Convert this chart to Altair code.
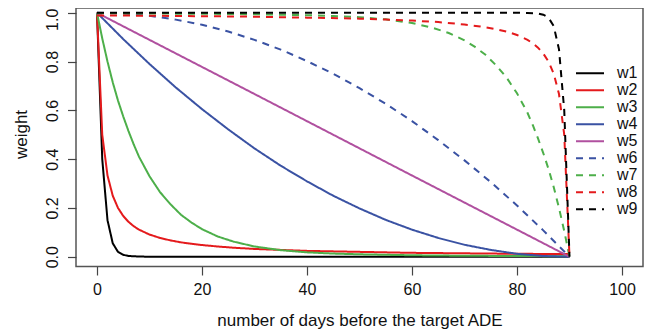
import altair as alt
import pandas as pd

names = ["w1", "w2", "w3", "w4", "w5", "w6", "w7", "w8", "w9"]

w1_days = [0, 1, 2, 3, 4, 5, 6, 8, 10, 20, 40, 60, 80, 90]
w1_vals = [1, 0.40, 0.15, 0.055, 0.02, 0.008, 0.003, 0.001, 0, 0, 0, 0, 0, 0]

w2_days = [0, 1, 2, 3, 4, 5, 6, 7, 8, 10, 12, 14, 16, 18, 20, 23, 26, 30, 35, 40, 45, 50, 55, 60, 65, 70, 75, 80, 85, 90]
w2_vals = [1, 0.5, 0.333, 0.25, 0.2, 0.167, 0.143, 0.125, 0.111, 0.091, 0.077, 0.067, 0.059, 0.053, 0.048, 0.042, 0.037,
           0.032, 0.028, 0.024, 0.022, 0.020, 0.018, 0.016, 0.015, 0.014, 0.013, 0.012, 0.0116, 0.011]

w3_days = [0, 1, 2, 3, 4, 5, 6, 7, 8, 10, 12, 14, 16, 18, 20, 23, 26, 30, 35, 40, 45, 50, 55, 60, 65, 70, 75, 80, 85, 90]
w3_vals = [1, 0.895, 0.80, 0.715, 0.64, 0.575, 0.515, 0.46, 0.41, 0.33, 0.265, 0.215, 0.172, 0.14, 0.113, 0.083, 0.062,
           0.042, 0.027, 0.018, 0.013, 0.010, 0.008, 0.006, 0.005, 0.004, 0.0035, 0.003, 0.0025, 0.002]

w4_days = [0, 5, 10, 15, 20, 25, 30, 35, 40, 45, 50, 55, 60, 65, 70, 75, 80, 85, 90]
w4_vals = [1, 0.892, 0.790, 0.694, 0.605, 0.522, 0.444, 0.373, 0.309, 0.25, 0.198, 0.151, 0.111, 0.077, 0.049, 0.028,
           0.012, 0.003, 0]

w5_days = [0, 30, 60, 90]
w5_vals = [1, 0.667, 0.333, 0]

w6_days = [0, 5, 10, 15, 20, 25, 30, 35, 40, 45, 50, 55, 60, 65, 70, 75, 80, 85, 90]
w6_vals = [1, 0.997, 0.988, 0.972, 0.951, 0.923, 0.889, 0.849, 0.802, 0.75, 0.691, 0.627, 0.556, 0.478, 0.395, 0.306,
           0.21, 0.108, 0]

w7_days = [0, 5, 10, 15, 20, 25, 30, 35, 40, 45, 50, 55, 60, 64, 67, 70, 72, 74, 76, 78, 80, 82, 83, 84, 85, 86, 87, 88, 89, 90]
w7_vals = [0.998, 0.9975, 0.997, 0.9965, 0.996, 0.995, 0.994, 0.992, 0.990, 0.987, 0.982, 0.973, 0.958, 0.938, 0.917,
           0.887, 0.86, 0.828, 0.785, 0.735, 0.67, 0.59, 0.54, 0.485, 0.425, 0.36, 0.285, 0.20, 0.105, 0]

w8_days = [0, 10, 20, 30, 40, 50, 55, 60, 65, 70, 73, 76, 78, 80, 82, 83, 84, 85, 86, 87, 88, 89, 90]
w8_vals = [0.989, 0.988, 0.986, 0.984, 0.980, 0.976, 0.972, 0.968, 0.962, 0.952, 0.944, 0.933, 0.923, 0.909, 0.889,
           0.875, 0.857, 0.833, 0.80, 0.75, 0.667, 0.5, 0]

w9_days = [0, 20, 40, 60, 80, 82, 84, 85, 86, 87, 88, 89, 90]
w9_vals = [1, 1, 1, 1, 1, 0.999, 0.997, 0.992, 0.98, 0.945, 0.85, 0.60, 0]

x_ticks = [0, 20, 40, 60, 80, 100]
y_ticks = [0.0, 0.2, 0.4, 0.6, 0.8, 1.0]

colors = ["#000000", "#E41A1C", "#4DAF4A", "#3A52A3", "#B0509F", "#3A52A3", "#4DAF4A", "#E41A1C", "#000000"]
dashes = [[1, 0]] * 5 + [[7, 6]] * 4

all_series = [
    (w1_days, w1_vals), (w2_days, w2_vals), (w3_days, w3_vals), (w4_days, w4_vals), (w5_days, w5_vals),
    (w6_days, w6_vals), (w7_days, w7_vals), (w8_days, w8_vals), (w9_days, w9_vals),
]
rows = []
for name, (days, vals) in zip(names, all_series):
    for d, v in zip(days, vals):
        rows.append({"series": name, "day": d, "weight": v})
df = pd.DataFrame(rows)

FONT = "Liberation Sans"

legend = alt.Legend(
    title=None, orient="none", legendX=499, legendY=57.7,
    symbolType="stroke", symbolSize=784, symbolStrokeWidth=2,
    labelFontSize=16, labelFont=FONT, labelColor="#111", labelOffset=12,
    clipHeight=15.3, rowPadding=0, padding=0,
)

chart = alt.Chart(df).mark_line(strokeWidth=2).encode(
    x=alt.X("day:Q",
            scale=alt.Scale(domain=[-4, 104], nice=False, zero=False),
            axis=alt.Axis(values=x_ticks, title="number of days before the target ADE",
                          labelPadding=6.5, labelFlush=False, labelOverlap=False,
                          titleBaseline="alphabetic", titleY=58.5, titleFontSize=17)),
    y=alt.Y("weight:Q",
            scale=alt.Scale(domain=[-0.04, 1.0196], nice=False, zero=False),
            axis=alt.Axis(values=y_ticks, format=".1f", title="weight",
                          labelAngle=270, labelAlign="center", labelBaseline="alphabetic",
                          labelOffset={"condition": {"test": "datum.value >= 0.99", "value": 6.5}, "value": 0},
                          labelPadding=10.5, labelFlush=False, labelOverlap=False,
                          titleAngle=270, titleBaseline="alphabetic", titleAlign="center",
                          titleX=-49.3, titleY=126, titleFontSize=17)),
    color=alt.Color("series:N", scale=alt.Scale(domain=names, range=colors), legend=legend),
    strokeDash=alt.StrokeDash("series:N", scale=alt.Scale(domain=names, range=dashes), legend=legend),
).properties(
    width=567, height=258.5,
    autosize=alt.AutoSizeParams(type="none"),
    padding={"left": 68, "top": 0, "right": 12, "bottom": 65},
).configure_view(
    stroke="#555", strokeWidth=1.5
).configure_axis(
    domain=False, grid=False, tickSize=8.5, tickWidth=1.2, tickColor="#444",
    labelFont=FONT, labelFontSize=16, labelColor="#111",
    titleFont=FONT, titleColor="#111", titleFontWeight="normal",
)

chart.save("out.html", embed_options={"renderer": "svg", "actions": False})
